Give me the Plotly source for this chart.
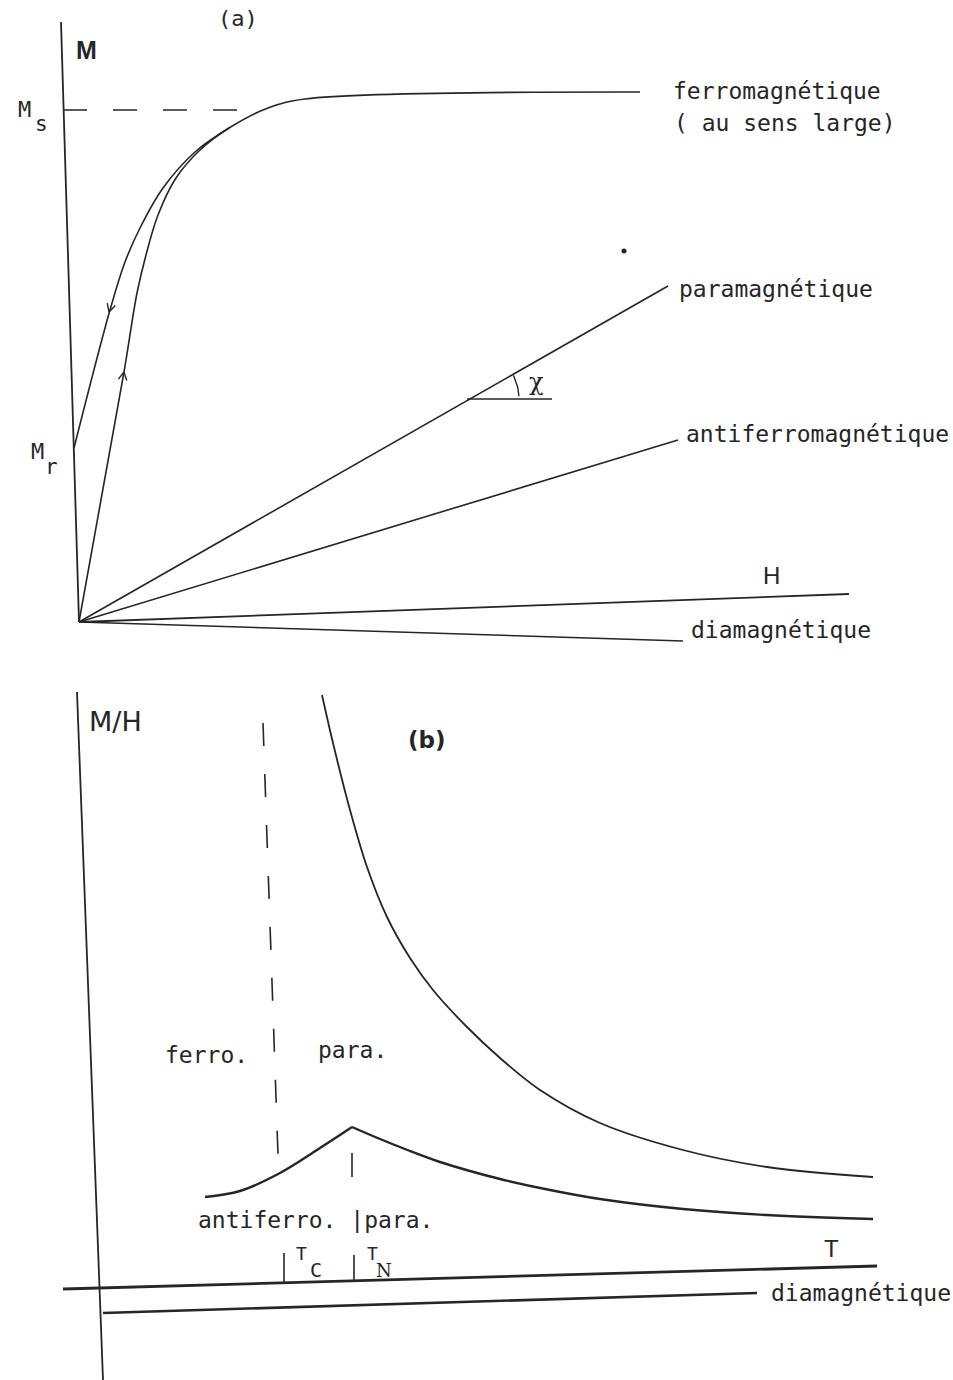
import numpy as np
import plotly.graph_objects as go

# Both panels are drawn in one frame whose units follow the scanned sheet
# (x to the right, y downwards), because the hand-drawn axes are not square.

# ---- (a) M(H) ----
m_axis_x = [61, 79]
m_axis_y = [22, 622]
h_axis_x = [79, 849]
h_axis_y = [622, 594]
ms_x = [63, 245]
ms_y = [110, 110]

ferro_up_x = [79, 124, 137, 146, 158, 176, 200, 229, 268, 305, 640]
ferro_up_y = [622, 372, 293, 255, 215, 178, 150, 128, 108, 99, 92]
ferro_down_x = [229, 195, 163, 140, 125, 110, 74]
ferro_down_y = [128, 152, 188, 228, 262, 310, 448]

para_x = [79, 668]
para_y = [622, 286]
antiferro_x = [79, 678]
antiferro_y = [622, 440]
diamag_a_x = [79, 683]
diamag_a_y = [622, 641]
chi_x = [467, 552]
chi_y = [399, 399]
dot_x = [624]
dot_y = [251]

# ---- (b) M/H(T) ----
mh_axis_x = [77, 103]
mh_axis_y = [692, 1380]
t_axis_x = [63, 877]
t_axis_y = [1289, 1266]
diamag_b_x = [103, 757]
diamag_b_y = [1313, 1293]
curie_x = [263, 278]
curie_y = [723, 1155]

ferro_b_x = [322, 333, 350, 367, 387, 410, 433, 465, 500, 540, 600, 683, 767, 873]
ferro_b_y = [695, 743, 810, 867, 917, 958, 990, 1025, 1058, 1090, 1123, 1150, 1167, 1177]
antif_low_x = [205, 240, 280, 317, 340, 352]
antif_low_y = [1197, 1191, 1173, 1150, 1135, 1127]
antif_high_x = [352, 380, 410, 440, 470, 500, 550, 600, 683, 767, 873]
antif_high_y = [1127, 1139, 1151, 1162, 1171, 1179, 1190, 1199, 1209, 1215, 1219]

tn_mark_x = [352, 352]
tn_mark_y = [1153, 1177]
tc_tick_x = [284, 284]
tc_tick_y = [1253, 1283]
tn_tick_x = [354, 354]
tn_tick_y = [1255, 1281]

INK = "#262626"
MONO = "DejaVu Sans Mono"
SANS = "Liberation Sans"


def chevron(x, y, dx, dy, size=9, spread=28):
    # two short strokes behind the tip (x, y), for a line heading (dx, dy)
    back = np.arctan2(-dy, -dx)
    xs, ys = [], []
    for s in (-1, 1):
        a = back + s * np.radians(spread)
        xs += [x + size * np.cos(a), x, None]
        ys += [y + size * np.sin(a), y, None]
    return xs, ys


def arc(cx, cy, r, a0, a1, n=12):
    t = np.radians(np.linspace(a0, a1, n))
    return cx + r * np.cos(t), cy - r * np.sin(t)


fig = go.Figure()


def line(x, y, width=1.6, dash=None, shape="linear"):
    fig.add_trace(go.Scatter(
        x=x, y=y, mode="lines", hoverinfo="skip",
        line=dict(color=INK, width=width, dash=dash, shape=shape),
    ))


line(m_axis_x, m_axis_y, 1.8)
line(h_axis_x, h_axis_y, 1.8)
line(ms_x, ms_y, 1.6, dash="24px,26px")
line(ferro_up_x, ferro_up_y, shape="spline")
line(ferro_down_x, ferro_down_y, shape="spline")
line(para_x, para_y)
line(antiferro_x, antiferro_y)
line(diamag_a_x, diamag_a_y)
line(chi_x, chi_y)
ax_, ay_ = arc(chi_x[0], chi_y[0], 52, 3, 27)
line(ax_, ay_, 1.4)
line(*chevron(124, 372, 45, -250), 1.4)
line(*chevron(109, 312, -15, 50), 1.4)
fig.add_trace(go.Scatter(x=dot_x, y=dot_y, mode="markers", hoverinfo="skip",
                         marker=dict(color=INK, size=5)))

line(mh_axis_x, mh_axis_y, 1.8)
line(t_axis_x, t_axis_y, 2.8)
line(diamag_b_x, diamag_b_y, 2.6)
line(curie_x, curie_y, 1.6, dash="23px,28px")
line(ferro_b_x, ferro_b_y, 1.8, shape="spline")
line(antif_low_x, antif_low_y, 2.4, shape="spline")
line(antif_high_x, antif_high_y, 2.4, shape="spline")
line(tn_mark_x, tn_mark_y, 1.6)
line(tc_tick_x, tc_tick_y, 1.6)
line(tn_tick_x, tn_tick_y, 1.6)

labels = [
    # text, x, y, font, size, anchor, bold
    ("(a)", 238, 18, MONO, 22, "center", False),
    ("M", 74, 50, SANS, 25, "left", True),
    ("M", 16, 109, MONO, 22, "left", False),
    ("s", 33, 124, MONO, 21, "left", False),
    ("M", 29, 451, MONO, 22, "left", False),
    ("r", 43, 467, MONO, 21, "left", False),
    ("ferromagnétique", 671, 91, MONO, 23, "left", False),
    ("( au sens large)", 672, 123, MONO, 23, "left", False),
    ("paramagnétique", 677, 289, MONO, 23, "left", False),
    ("χ", 536, 382, "DejaVu Serif", 24, "center", False),
    ("antiferromagnétique", 684, 434, MONO, 23, "left", False),
    ("H", 771, 575, SANS, 24, "center", False),
    ("diamagnétique", 689, 630, MONO, 23, "left", False),
    ("M/H", 87, 721, "DejaVu Sans", 27, "left", False),
    ("(b)", 427, 740, "DejaVu Sans", 23, "center", True),
    ("ferro.", 163, 1055, MONO, 23, "left", False),
    ("para.", 316, 1050, MONO, 23, "left", False),
    ("antiferro. |para.", 196, 1220, MONO, 23, "left", False),
    ("T", 301, 1253, MONO, 18, "center", False),
    ("C", 316, 1270, MONO, 20, "center", False),
    ("T", 372, 1253, MONO, 18, "center", False),
    ("N", 384, 1270, "DejaVu Serif", 18, "center", False),
    ("T", 831, 1248, SANS, 24, "center", False),
    ("diamagnétique", 769, 1293, MONO, 23, "left", False),
]
for text, x, y, family, size, anchor, bold in labels:
    fig.add_annotation(x=x, y=y, text=text, showarrow=False, xanchor=anchor,
                       yanchor="middle",
                       font=dict(family=family, size=size, color=INK,
                                 weight="bold" if bold else "normal"))

fig.update_layout(
    width=953, height=1380,
    margin=dict(l=0, r=0, t=0, b=0),
    paper_bgcolor="white", plot_bgcolor="white",
    showlegend=False,
    xaxis=dict(range=[0, 953], visible=False, fixedrange=True),
    yaxis=dict(range=[1380, 0], visible=False, fixedrange=True),
)

fig.write_html("out.html", config={"displayModeBar": False},
               post_script="document.body.style.margin='0';")
